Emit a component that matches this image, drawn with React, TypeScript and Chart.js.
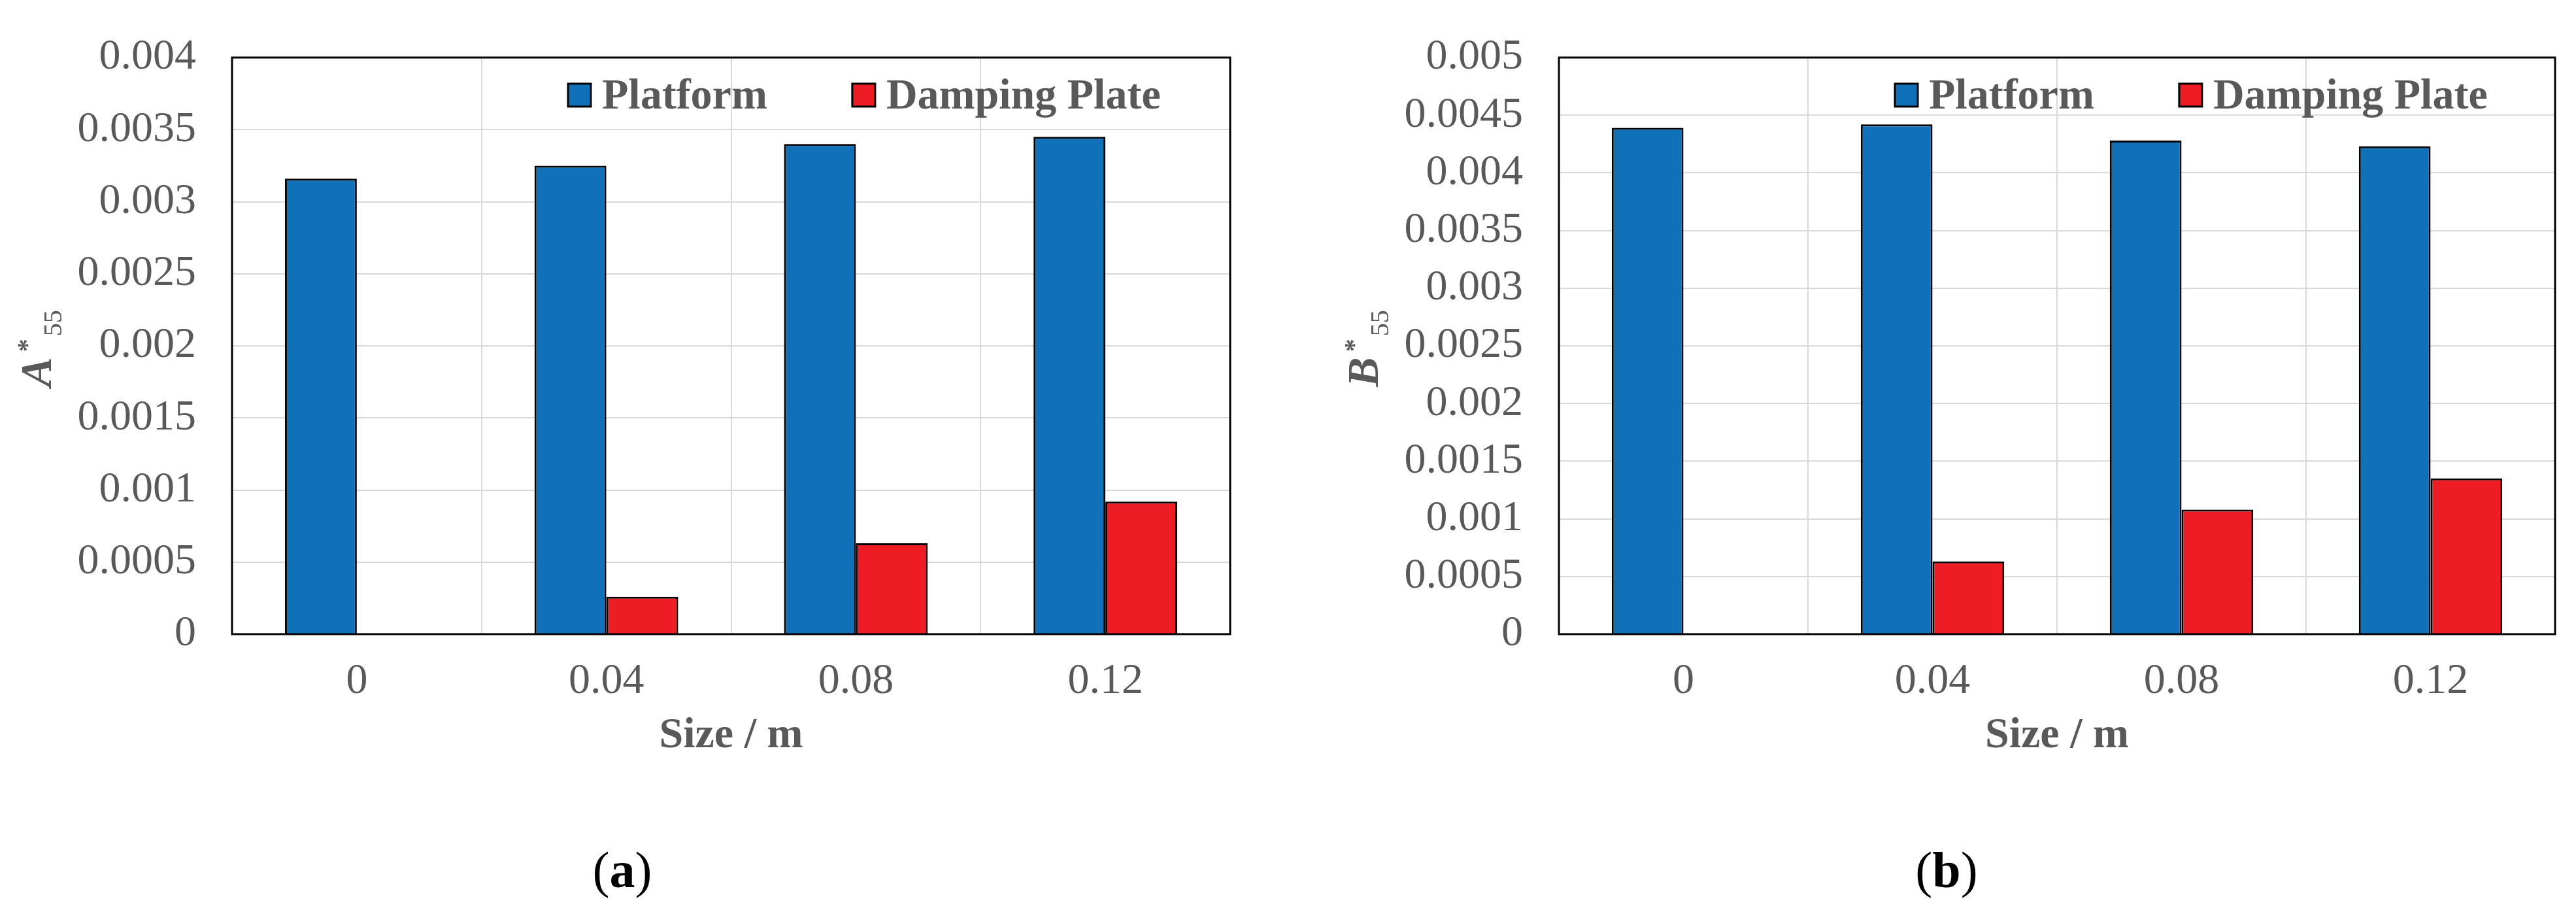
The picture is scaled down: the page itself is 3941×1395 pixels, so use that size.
import React, { useEffect, useRef } from "react";
import { Chart, registerables } from "chart.js";

Chart.register(...registerables);

const categories = ["0", "0.04", "0.08", "0.12"];
const seriesNames = ["Platform", "Damping Plate"];
const platformA = [0.00316, 0.00325, 0.0034, 0.00345];
const plateA = [0, 0.00026, 0.00063, 0.00092];
const platformB = [0.00439, 0.00442, 0.00428, 0.00423];
const plateB = [0, 0.00063, 0.00108, 0.00135];
const yTicksA = ["0", "0.0005", "0.001", "0.0015", "0.002", "0.0025", "0.003", "0.0035", "0.004"];
const yTicksB = ["0", "0.0005", "0.001", "0.0015", "0.002", "0.0025", "0.003", "0.0035", "0.004", "0.0045", "0.005"];

const FONT = "'Liberation Serif', 'Times New Roman', serif";
const GRAY = "#595959";
const BLUE = "#1070b8";
const RED = "#ee1c25";

const decorPlugin = {
  id: "decor",
  afterDatasetsDraw(chart: any, _args: any, opts: any) {
    const ctx = chart.ctx;
    const { left, top, right, bottom } = chart.chartArea;
    ctx.save();
    // frame
    ctx.strokeStyle = "#000";
    ctx.lineWidth = 3;
    ctx.strokeRect(left, top, right - left, bottom - top);

    // legend
    ctx.font = `bold 66px ${FONT}`;
    ctx.textBaseline = "alphabetic";
    ctx.textAlign = "left";
    let x = left + 514;
    chart.data.datasets.forEach((ds: any) => {
      ctx.fillStyle = ds.backgroundColor;
      ctx.fillRect(x, top + 40, 35, 35);
      ctx.lineWidth = 3;
      ctx.strokeStyle = "#000";
      ctx.strokeRect(x, top + 40, 35, 35);
      ctx.fillStyle = GRAY;
      const tx = x + 35 + 17;
      ctx.fillText(ds.label, tx, top + 78);
      x = tx + ctx.measureText(ds.label).width + 130;
    });

    // y axis title: letter (bold italic), superscript *, subscript 55
    const letter = opts.letter || "A";
    const baseX = left - 277;
    const cy = (top + bottom) / 2 + 4;
    ctx.translate(baseX, cy);
    ctx.rotate(-Math.PI / 2);
    ctx.fillStyle = GRAY;
    ctx.font = `italic bold 68px ${FONT}`;
    const wL = ctx.measureText(letter).width;
    ctx.font = `bold 40px ${FONT}`;
    const wS = ctx.measureText("*").width;
    const wN = ctx.measureText("55").width;
    const total = wL + 8 + wS + 4 + wN;
    let rx = -total / 2;
    ctx.font = `italic bold 68px ${FONT}`;
    ctx.fillText(letter, rx, 0);
    rx += wL + 8;
    ctx.font = `bold 40px ${FONT}`;
    ctx.fillText("*", rx, -24);
    rx += wS + 4;
    ctx.font = `40px ${FONT}`;
    ctx.fillText("55", rx, 16);
    ctx.restore();
  },
};

type PanelProps = {
  platform: number[];
  plate: number[];
  yTicks: string[];
  yMax: number;
  letter: string;
  canvasLeft: number;
  canvasWidth: number;
  yWidth: number;
  padRight: number;
};

function Panel(p: PanelProps) {
  const ref = useRef<HTMLCanvasElement | null>(null);
  useEffect(() => {
    if (!ref.current) return;
    const chart = new Chart(ref.current, {
      type: "bar",
      data: {
        labels: categories,
        datasets: [
          {
            label: seriesNames[0],
            data: p.platform,
            backgroundColor: BLUE,
            borderColor: "#000",
            borderWidth: 3,
            barPercentage: 1,
            categoryPercentage: 0.576,
          },
          {
            label: seriesNames[1],
            data: p.plate,
            backgroundColor: RED,
            borderColor: "#000",
            borderWidth: 3,
            barPercentage: 1,
            categoryPercentage: 0.576,
          },
        ],
      },
      plugins: [decorPlugin],
      options: {
        animation: false,
        responsive: false,
        devicePixelRatio: 1,
        layout: { padding: { top: 49, right: p.padRight, left: 0, bottom: 0 } },
        plugins: {
          legend: { display: false },
          tooltip: { enabled: false },
          decor: { letter: p.letter },
        } as any,
        scales: {
          x: {
            grid: { color: "#d9d9d9", lineWidth: 2, drawTicks: false, offset: true },
            border: { display: false },
            ticks: { font: { family: FONT, size: 66, lineHeight: 1 }, color: GRAY, padding: 40, maxRotation: 0 },
            title: {
              display: true,
              text: "Size / m",
              color: GRAY,
              font: { family: FONT, size: 66, weight: "bold", lineHeight: 1 },
              padding: { top: 0, bottom: 41 },
            },
            afterFit: (axis: any) => {
              axis.height = 230;
            },
          },
          y: {
            min: 0,
            max: p.yMax,
            grid: { color: "#d9d9d9", lineWidth: 2, drawTicks: false },
            border: { display: false },
            ticks: {
              stepSize: 0.0005,
              font: { family: FONT, size: 66, lineHeight: 1 },
              color: GRAY,
              padding: 55,
              callback: (_v: any, i: number) => p.yTicks[i],
            },
            afterFit: (axis: any) => {
              axis.width = p.yWidth;
            },
          },
        },
      } as any,
    });
    return () => chart.destroy();
  }, []);
  return (
    <canvas
      ref={ref}
      width={p.canvasWidth}
      height={1200}
      style={{ position: "absolute", left: p.canvasLeft, top: 0, width: p.canvasWidth, height: 1200, display: "block" }}
    />
  );
}

function PanelLabel({ center, letter }: { center: number; letter: string }) {
  return (
    <div
      style={{
        position: "absolute",
        left: center - 100,
        width: 200,
        top: 1292,
        textAlign: "center",
        fontFamily: FONT,
        fontSize: 78,
        lineHeight: "78px",
        color: "#000",
      }}
    >
      (<b>{letter}</b>)
    </div>
  );
}

export default function App() {
  return (
    <div
      style={{
        position: "fixed",
        left: 0,
        top: 0,
        width: 3941,
        height: 1395,
        background: "#fff",
        overflow: "hidden",
      }}
    >
      <Panel
        platform={platformA}
        plate={plateA}
        yTicks={yTicksA}
        yMax={0.004}
        letter="A"
        canvasLeft={0}
        canvasWidth={1970}
        yWidth={355}
        padRight={88}
      />
      <Panel
        platform={platformB}
        plate={plateB}
        yTicks={yTicksB}
        yMax={0.005}
        letter="B"
        canvasLeft={1970}
        canvasWidth={1971}
        yWidth={415}
        padRight={32}
      />
      <PanelLabel center={952} letter="a" />
      <PanelLabel center={2978} letter="b" />
    </div>
  );
}
